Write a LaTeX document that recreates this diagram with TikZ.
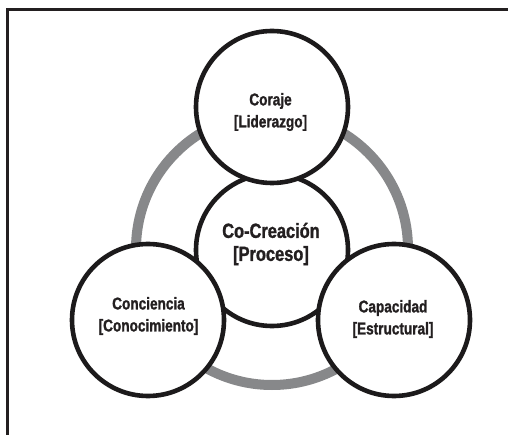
\documentclass[tikz,border=0pt]{standalone}
\usepackage{fontspec}
\newfontfamily\labelfont[FakeStretch=0.8,FakeBold=1.3,UprightFont={Liberation Sans Bold},BoldFont={Liberation Sans Bold}]{Liberation Sans}
\begin{document}
\begin{tikzpicture}[x=1pt,y=-1pt,
  ring/.style={draw=ringgray,line width=10pt},
  disc/.style={circle,draw=discblack,fill=white,line width=4.6pt,minimum size=152pt,inner sep=0pt},
  lbl/.style={align=center,text=txt,font=\labelfont\fontsize{17}{22}\selectfont,inner sep=0pt},
  biglbl/.style={align=center,text=txt,font=\labelfont\fontsize{20.5}{23}\selectfont,inner sep=0pt}]
\definecolor{ringgray}{HTML}{87888A}
\definecolor{discblack}{HTML}{1C1A1B}
\definecolor{txt}{HTML}{231F20}
\definecolor{frame}{HTML}{231F20}
\useasboundingbox (0,0) rectangle (508,435);
% open frame: left and top edges
\draw[frame,line width=2.6pt] (7.5,440) -- (7.5,9.8) -- (515,9.8);
% outer grey ring
\coordinate (hub) at (272,249);
\draw[ring] (hub) circle (136);
% centre disc, then the three outer discs on top of it
\node[disc] (proceso) at (272,250) {};
\node[disc] (coraje) at (272,107) {};
\node[disc] (conciencia) at (148,320) {};
\node[disc] (capacidad) at (394,320) {};
% labels
\node[biglbl] (tproceso) at (271,244) {Co-Creación\\{}[Proceso]};
\node[lbl] (tcoraje) at (270.5,112) {Coraje\\{}[Liderazgo]};
\node[lbl] (tconciencia) at (148.5,316) {Conciencia\\{}[Conocimiento]};
\node[lbl] (tcapacidad) at (393,319) {Capacidad\\{}[Estructural]};
\end{tikzpicture}
\end{document}
